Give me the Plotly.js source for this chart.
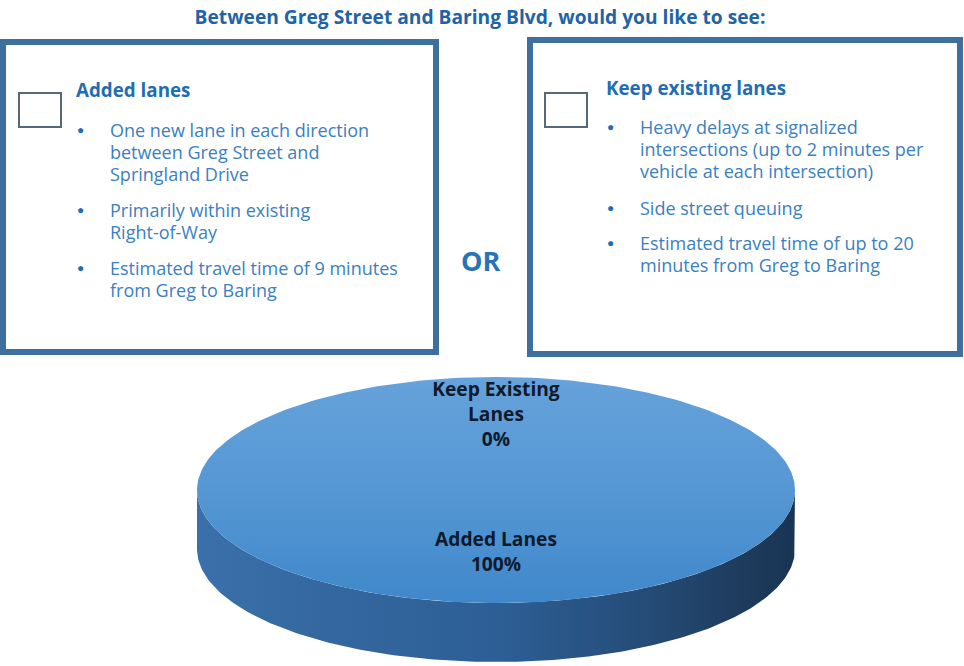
<!DOCTYPE html>
<html>
<head>
<meta charset="utf-8">
<script src="https://cdn.plot.ly/plotly-3.0.1.min.js"></script>
<style>
  html, body { margin: 0; padding: 0; background: #ffffff; }
  #chart { width: 964px; height: 666px; }
</style>
</head>
<body>
<div id="chart"></div>
<script>
// ---------- data ----------
const sliceNames = ['Added Lanes', 'Keep Existing Lanes'];
const sliceValues = [100, 0];
const sliceLabels = ['Added Lanes', 'Keep Existing<br>Lanes'];

const titleText = 'Between Greg Street and Baring Blvd, would you like to see:';
const orText = 'OR';
const leftHeading = 'Added lanes';
const leftBullets = [
  ['One new lane in each direction', 'between Greg Street and', 'Springland Drive'],
  ['Primarily within existing', 'Right-of-Way'],
  ['Estimated travel time of 9 minutes', 'from Greg to Baring']
];
const rightHeading = 'Keep existing lanes';
const rightBullets = [
  ['Heavy delays at signalized', 'intersections (up to 2 minutes per', 'vehicle at each intersection)'],
  ['Side street queuing'],
  ['Estimated travel time of up to 20', 'minutes from Greg to Baring']
];

// ---------- style / geometry ----------
const W = 964, H = 666;
const pie = { cx: 496, cy: 490, rx: 299, ry: 113, depth: 59, labelCy: 485, labelR: 0.61 };
const BORDER = '#3f6f9f';
const HEAD_COLOR = '#1f6db3';
const TEXT_COLOR = '#3a80c2';
const BOX_FONT = 'Open Sans, sans-serif';
const LABEL_FONT = 'Open Sans, sans-serif';

function pt(deg, dy) {
  const r = deg * Math.PI / 180;
  return [pie.cx + pie.rx * Math.cos(r), pie.cy - pie.ry * Math.sin(r) + (dy || 0)];
}

const total = sliceValues.reduce((a, b) => a + b, 0);
const traces = [];
const sideTraces = [];
const topTraces = [];
const labelX = [], labelY = [], labelT = [];

let start = 90; // first slice starts at 12 o'clock, clockwise
sliceValues.forEach((v, i) => {
  const frac = v / total;
  const sweep = frac * 360;
  const a0 = start, a1 = start - sweep;
  const mid = (a0 + a1) / 2;
  const mr = mid * Math.PI / 180;
  labelX.push(pie.cx + pie.labelR * pie.rx * Math.cos(mr));
  labelY.push(pie.labelCy - pie.labelR * pie.ry * Math.sin(mr));
  labelT.push('<b>' + sliceLabels[i] + '<br>' + Math.round(frac * 100) + '%</b>');

  if (frac > 0) {
    const xs = [], ys = [];
    const n = Math.max(4, Math.ceil(sweep));
    for (let k = 0; k <= n; k++) {
      const p = pt(a0 - sweep * k / n);
      xs.push(p[0]); ys.push(p[1]);
    }
    if (frac < 1) { xs.push(pie.cx); ys.push(pie.cy); }
    topTraces.push({
      type: 'scatter', mode: 'lines', x: xs, y: ys, fill: 'toself',
      line: { width: 0, color: 'rgba(0,0,0,0)' },
      fillgradient: { type: 'vertical', start: pie.cy - pie.ry, stop: pie.cy + pie.ry,
        colorscale: [[0, '#66a2db'], [0.5, '#5597d4'], [1, '#4088ca']] },
      hoverinfo: 'skip', showlegend: false
    });
    let lo = a1, hi = a0;
    while (hi > 0) { lo -= 360; hi -= 360; }
    const ranges = [[Math.max(lo, -180), Math.min(hi, 0)], [Math.max(lo + 360, -180), Math.min(hi + 360, 0)], [Math.max(lo - 360, -180), Math.min(hi - 360, 0)]];
    ranges.forEach(r => {
      if (r[1] - r[0] <= 0.01) return;
      const sx = [], sy = [];
      const m = Math.ceil(r[1] - r[0]);
      for (let k = 0; k <= m; k++) { const p = pt(r[0] + (r[1] - r[0]) * k / m); sx.push(p[0]); sy.push(p[1]); }
      for (let k = m; k >= 0; k--) { const p = pt(r[0] + (r[1] - r[0]) * k / m, pie.depth); sx.push(p[0]); sy.push(p[1]); }
      sideTraces.push({
        type: 'scatter', mode: 'lines', x: sx, y: sy, fill: 'toself',
        line: { width: 0, color: 'rgba(0,0,0,0)' },
        fillgradient: { type: 'horizontal', start: pie.cx - pie.rx, stop: pie.cx + pie.rx,
          colorscale: [[0, '#3a70aa'], [0.2, '#3568a0'], [0.5, '#2d5f96'], [0.75, '#254c77'], [0.92, '#1d3b5c'], [1, '#1a3453']] },
        hoverinfo: 'skip', showlegend: false
      });
    });
  }
  start = a1;
});

traces.push(...sideTraces, ...topTraces);
traces.push({
  type: 'scatter', mode: 'text', x: labelX, y: labelY, text: labelT,
  textposition: 'middle center',
  textfont: { family: LABEL_FONT, size: 19.2, color: '#0f1a2b' },
  hoverinfo: 'skip', showlegend: false
});

// ---------- boxes & text ----------
const shapes = [
  { type: 'rect', xref: 'x', yref: 'y', x0: 3, x1: 436, y0: 42, y1: 352, line: { color: BORDER, width: 6 }, fillcolor: '#ffffff' },
  { type: 'rect', xref: 'x', yref: 'y', x0: 530, x1: 960, y0: 40, y1: 354, line: { color: BORDER, width: 6 }, fillcolor: '#ffffff' },
  { type: 'rect', xref: 'x', yref: 'y', x0: 19, x1: 61, y0: 93, y1: 127, line: { color: '#56697c', width: 2 } },
  { type: 'rect', xref: 'x', yref: 'y', x0: 545, x1: 587, y0: 93, y1: 127, line: { color: '#56697c', width: 2 } }
];

const annotations = [];
function addText(txt, x, y, size, color, bold, xanchor) {
  annotations.push({
    xref: 'x', yref: 'y', x: x, y: y, text: bold ? '<b>' + txt + '</b>' : txt,
    showarrow: false, xanchor: xanchor || 'left', yanchor: 'middle',
    font: { family: BOX_FONT, size: size, color: color }
  });
}
function addBox(heading, bullets, hx, hy, bx, tx, lineYs) {
  addText(heading, hx, hy, 18.8, HEAD_COLOR, true);
  let li = 0;
  bullets.forEach(lines => {
    addText('●', bx, lineYs[li] - 1, 12, HEAD_COLOR, false, 'center');
    lines.forEach(l => { addText(l, tx, lineYs[li], 18, TEXT_COLOR, false); li++; });
  });
}
addBox(leftHeading, leftBullets, 74, 90, 80, 108, [130, 152, 174, 210, 232, 268, 290]);
addBox(rightHeading, rightBullets, 604, 88, 610, 638, [127, 149, 171, 208, 243, 265]);
addText(orText, 480, 260, 27, '#2a72b8', true, 'center');

const layout = {
  width: W, height: H,
  margin: { l: 0, r: 0, t: 0, b: 0, pad: 0 },
  paper_bgcolor: '#ffffff', plot_bgcolor: '#ffffff',
  title: {
    text: '<b>' + titleText + '</b>',
    font: { family: 'Open Sans, sans-serif', size: 19.2, color: '#2163a6' },
    x: 480 / W, xanchor: 'center', y: 1 - 17 / H, yanchor: 'middle'
  },
  xaxis: { range: [0, W], visible: false, fixedrange: true },
  yaxis: { range: [H, 0], visible: false, fixedrange: true },
  shapes: shapes,
  annotations: annotations,
  showlegend: false,
  hovermode: false
};

Plotly.newPlot('chart', traces, layout, { staticPlot: true, displayModeBar: false });
</script>
</body>
</html>
